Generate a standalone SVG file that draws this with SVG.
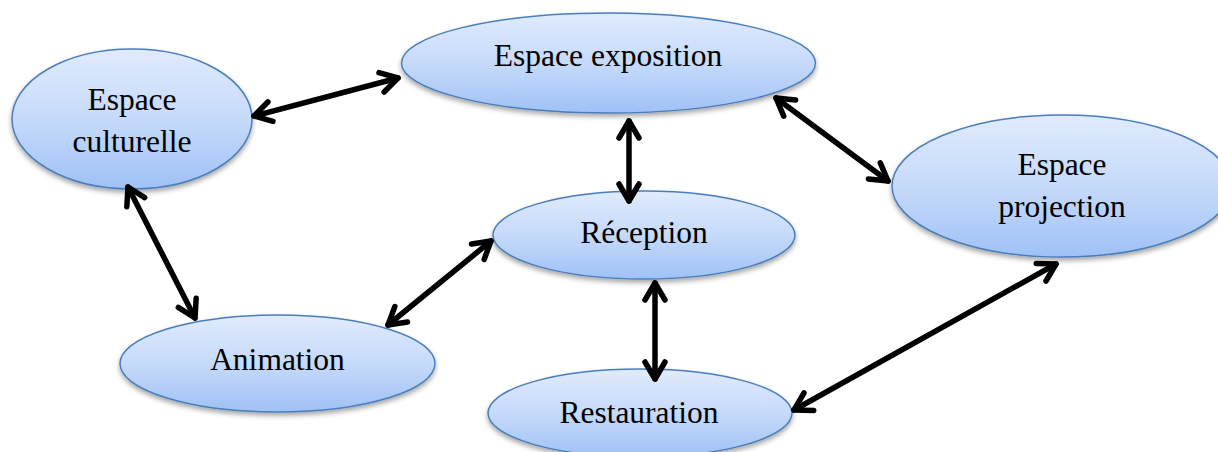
<svg xmlns="http://www.w3.org/2000/svg" width="1218" height="452" viewBox="0 0 1218 452">
<defs>
<linearGradient id="g" x1="0" y1="0" x2="0" y2="1">
<stop offset="0" stop-color="#e0ebfc"/>
<stop offset="0.5" stop-color="#c6dafa"/>
<stop offset="1" stop-color="#9fc1f6"/>
</linearGradient>
<filter id="sh" x="-10%" y="-10%" width="120%" height="130%">
<feDropShadow dx="0" dy="3" stdDeviation="2.5" flood-color="#000" flood-opacity="0.35"/>
</filter>
<marker id="ah" viewBox="-24 -14 28 28" refX="0" refY="0" markerWidth="28" markerHeight="28" markerUnits="userSpaceOnUse" orient="auto-start-reverse">
<path d="M-17,-10 L0,0 L-17,10" fill="none" stroke="#000" stroke-width="5.5" stroke-linecap="round" stroke-linejoin="round"/>
</marker>
<style>
.n ellipse{fill:url(#g);stroke:#4a7ebb;stroke-width:1.5;filter:url(#sh)}
.n text{font-family:"Liberation Serif","Times New Roman",serif;font-size:31.5px;fill:#000;text-anchor:middle}
.c line{stroke:#000;stroke-width:5.5;stroke-linecap:round;marker-start:url(#ah);marker-end:url(#ah)}
</style>
</defs>
<rect width="1218" height="452" fill="#fff"/>
<g id="n-culturelle" class="n">
<ellipse cx="132" cy="119" rx="120" ry="70"/>
<text x="132" y="110">Espace</text>
<text x="132" y="152">culturelle</text>
</g>
<g id="n-exposition" class="n">
<ellipse cx="608.5" cy="63" rx="207" ry="50"/>
<text x="608" y="66">Espace exposition</text>
</g>
<g id="n-reception" class="n">
<ellipse cx="644" cy="235" rx="151" ry="44"/>
<text x="644" y="243">Réception</text>
</g>
<g id="n-projection" class="n">
<ellipse cx="1062" cy="186" rx="170" ry="71"/>
<text x="1062" y="175">Espace</text>
<text x="1062" y="217">projection</text>
</g>
<g id="n-animation" class="n">
<ellipse cx="277.5" cy="363.5" rx="157.5" ry="48.5"/>
<text x="277.5" y="370">Animation</text>
</g>
<g id="n-restauration" class="n">
<ellipse cx="640" cy="413" rx="152" ry="44"/>
<text x="639" y="423">Restauration</text>
</g>
<g id="connectors" class="c">
<line x1="254" y1="116" x2="398" y2="78"/>
<line x1="629" y1="121" x2="629" y2="201"/>
<line x1="776" y1="98" x2="888" y2="181"/>
<line x1="128" y1="187" x2="195" y2="318"/>
<line x1="388" y1="325" x2="491" y2="241"/>
<line x1="655" y1="283" x2="655" y2="379"/>
<line x1="794" y1="410" x2="1056" y2="264"/>
</g>
</svg>
